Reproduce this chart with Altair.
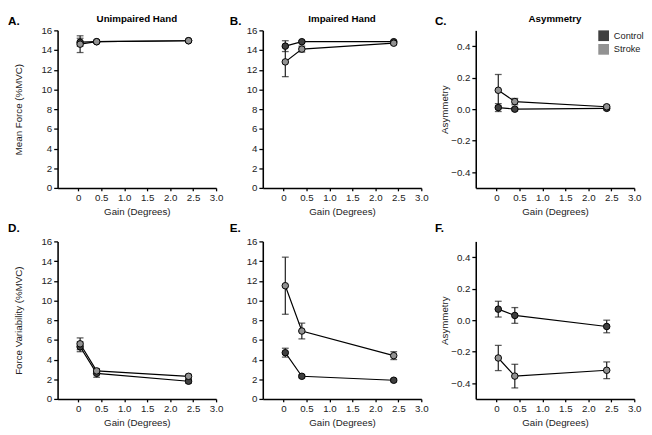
import altair as alt
import pandas as pd

FONT = "Liberation Sans"

gains = [0.04, 0.4, 2.4]
groups = ["Control", "Stroke"]
group_colors = ["#3f3f3f", "#929292"]
x_ticks = [0, 0.5, 1.0, 1.5, 2.0, 2.5, 3.0]
force_ticks = [0, 2, 4, 6, 8, 10, 12, 14, 16]
asym_ticks = [-0.4, -0.2, 0.0, 0.2, 0.4]

# Panel A: Unimpaired hand, mean force
a_control = [14.8, 14.85, 14.95]
a_control_err = [0.4, 0.1, 0.1]
a_stroke = [14.6, 14.85, 14.95]
a_stroke_err = [0.85, 0.12, 0.1]

# Panel B: Impaired hand, mean force
b_control = [14.4, 14.85, 14.85]
b_control_err = [0.55, 0.1, 0.1]
b_stroke = [12.8, 14.1, 14.7]
b_stroke_err = [1.5, 0.3, 0.15]

# Panel C: Asymmetry, mean force
c_control = [0.01, 0.0, 0.005]
c_control_err = [0.025, 0.01, 0.01]
c_stroke = [0.12, 0.048, 0.015]
c_stroke_err = [0.10, 0.02, 0.01]

# Panel D: Unimpaired hand, force variability
d_control = [5.3, 2.6, 1.8]
d_control_err = [0.5, 0.4, 0.2]
d_stroke = [5.6, 2.85, 2.3]
d_stroke_err = [0.6, 0.2, 0.2]

# Panel E: Impaired hand, force variability
e_control = [4.7, 2.3, 1.9]
e_control_err = [0.45, 0.15, 0.15]
e_stroke = [11.5, 6.9, 4.4]
e_stroke_err = [2.9, 0.8, 0.4]

# Panel F: Asymmetry, force variability
f_control = [0.07, 0.03, -0.04]
f_control_err = [0.05, 0.05, 0.04]
f_stroke = [-0.24, -0.355, -0.318]
f_stroke_err = [0.08, 0.075, 0.053]

W = 163
H = 162


def frame(control, control_err, stroke, stroke_err):
    rows = []
    for g, means, errs in (("Control", control, control_err), ("Stroke", stroke, stroke_err)):
        for x, m, e in zip(gains, means, errs):
            rows.append({"group": g, "gain": x, "mean": m, "lo": m - e, "hi": m + e})
    return pd.DataFrame(rows)


def panel(df, letter, letter_dx, letter_dy, ytitle, ydomain, yticks, yfmt,
          title_x, title=None, legend=False):
    xscale = alt.Scale(domain=[-0.45, 3.0], nice=False, zero=False)
    xaxis = alt.Axis(values=x_ticks, title="Gain (Degrees)", labelOverlap=False,
                     labelFlush=False,
                     labelExpr="datum.value == 0 ? '0' : format(datum.value, '.1f')")
    yscale = alt.Scale(domain=ydomain, nice=False, zero=False)
    yaxis = alt.Axis(values=yticks, format=yfmt, title=ytitle, labelOverlap=False,
                     labelFlush=False, titleX=title_x, titleY=H / 2)
    x = alt.X("gain:Q", scale=xscale, axis=xaxis)
    y = alt.Y("mean:Q", scale=yscale, axis=yaxis)
    ylo = alt.Y("lo:Q", scale=yscale, axis=yaxis)
    yhi = alt.Y("hi:Q", scale=yscale, axis=yaxis)
    base = alt.Chart(df)
    line = base.mark_line(color="black", strokeWidth=1.2).encode(
        x=x, y=y, detail="group:N")
    rule = base.mark_rule(color="#1a1a1a", strokeWidth=1.2).encode(
        x=x, y=ylo, y2="hi:Q")
    cap_lo = base.mark_tick(orient="horizontal", size=7, thickness=1.3,
                            color="#1a1a1a").encode(x=x, y=ylo)
    cap_hi = base.mark_tick(orient="horizontal", size=7, thickness=1.3,
                            color="#1a1a1a").encode(x=x, y=yhi)
    if legend:
        leg = alt.Legend(title=None, orient="none", legendX=126, legendY=0,
                         padding=0, symbolType="square", symbolSize=121,
                         symbolStrokeWidth=0, labelFontSize=9.5,
                         labelFont=FONT, labelColor="#222", rowPadding=3,
                         labelOffset=5, symbolOpacity=1)
    else:
        leg = None
    fill = alt.Fill("group:N", scale=alt.Scale(domain=groups, range=group_colors),
                    legend=leg)
    pts = base.mark_circle(size=45, stroke="black", strokeWidth=1,
                           opacity=1).encode(x=x, y=y, fill=fill)
    layers = [line, rule, cap_lo, cap_hi, pts]
    layers.append(alt.Chart(pd.DataFrame({"t": [letter]})).mark_text(
        align="left", baseline="alphabetic", fontSize=12, fontWeight="bold",
        font=FONT, color="black").encode(
        text="t:N", x=alt.value(letter_dx), y=alt.value(letter_dy)))
    if title:
        layers.append(alt.Chart(pd.DataFrame({"t": [title]})).mark_text(
            align="center", baseline="alphabetic", fontSize=10, fontWeight="bold",
            font=FONT, color="black").encode(
            text="t:N", x=alt.value(W / 2), y=alt.value(-8.5)))
    return alt.layer(*layers).properties(width=W, height=H)


A = panel(frame(a_control, a_control_err, a_stroke, a_stroke_err), "A.", -51, -5.5,
          "Mean Force (%MVC)", [0, 16], force_ticks, "d", -35, title="Unimpaired Hand")
B = panel(frame(b_control, b_control_err, b_stroke, b_stroke_err), "B.", -34, -5.5,
          "", [0, 16], force_ticks, "d", -35, title="Impaired Hand")
C = panel(frame(c_control, c_control_err, c_stroke, c_stroke_err), "C.", -42, -5.5,
          "Asymmetry", [-0.5, 0.5], asym_ticks, ".1f", -27, title="Asymmetry",
          legend=True)
D = panel(frame(d_control, d_control_err, d_stroke, d_stroke_err), "D.", -51, -10,
          "Force Variability (%MVC)", [0, 16], force_ticks, "d", -35)
E = panel(frame(e_control, e_control_err, e_stroke, e_stroke_err), "E.", -34, -10,
          "", [0, 16], force_ticks, "d", -35)
F = panel(frame(f_control, f_control_err, f_stroke, f_stroke_err), "F.", -42, -10,
          "Asymmetry", [-0.5, 0.5], asym_ticks, ".1f", -27)

row1 = alt.hconcat(A, B, C, spacing=7).resolve_scale(fill="independent")
row2 = alt.hconcat(D, E, F, spacing=7).resolve_scale(fill="independent")

chart = alt.vconcat(row1, row2, spacing=6).resolve_scale(
    fill="independent").properties(
    padding={"left": 0, "top": 0, "right": 0, "bottom": 0}
).configure_view(stroke=None).configure_axis(
    grid=False,
    domainColor="black", domainWidth=1.6,
    tickColor="black", tickWidth=1.3, tickSize=4,
    labelFont=FONT, labelFontSize=10, labelColor="#222", labelPadding=2,
    titleFont=FONT, titleFontSize=10, titleFontWeight="normal", titleColor="#222",
).configure_axisX(tickSize=3, titlePadding=4)

chart.save("out.html", embed_options={"renderer": "svg", "actions": False})
